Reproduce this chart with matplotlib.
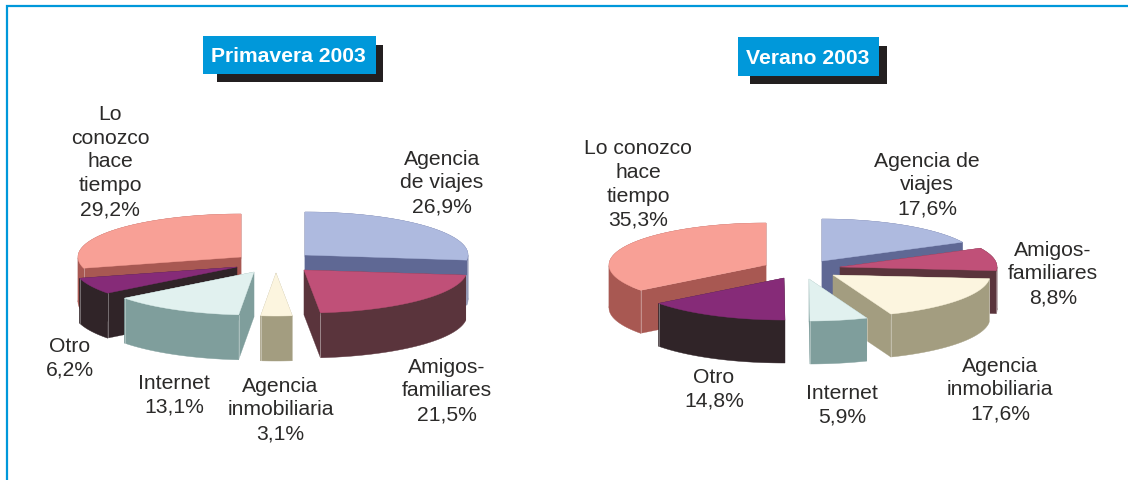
# plot.py
# Two exploded pseudo-3D pies, drawn on one full-figure axes in pixel coords

import numpy as np
import matplotlib
matplotlib.use("Agg")
import matplotlib.pyplot as plt
from matplotlib.patches import Polygon, Rectangle

# -------------------------
# Data
# -------------------------
categories_left = ["Agencia\nde viajes", "Amigos-\nfamiliares", "Agencia\ninmobiliaria",
                   "Internet", "Otro", "Lo\nconozco\nhace\ntiempo"]
values_left = [26.9, 21.5, 3.1, 13.1, 6.2, 29.2]

categories_right = ["Agencia de\nviajes", "Amigos-\nfamiliares", "Agencia\ninmobiliaria",
                    "Internet", "Otro", "Lo conozco\nhace\ntiempo"]
values_right = [17.6, 8.8, 17.6, 5.9, 14.8, 35.3]

titles = ["Primavera 2003", "Verano 2003"]

# -------------------------
# Style / layout
# -------------------------
W, H = 1128, 481
BLUE = "#0098DA"
TEXT = "#2B2A29"
TOP_COLORS = ["#AEBADF", "#C05078", "#FCF5DF", "#E1F1EF", "#862B78", "#F8A096"]
SIDE_COLORS = ["#5F6894", "#5A343C", "#A39D80", "#7F9E9C", "#302428", "#A85852"]

# apex of each exploded slice, in pixels
APEX_LEFT = [(305, 256), (304, 271), (276, 274), (254, 273), (237, 268), (241, 258)]
APEX_RIGHT = [(822, 262), (840, 268), (833, 276), (809, 280), (784, 279), (766, 266)]
ORDER_LEFT = [5, 0, 4, 1, 3, 2]
ORDER_RIGHT = [5, 0, 1, 2, 4, 3]

LABELS_LEFT = [(442, 183), (447, 391), (280.5, 410), (174, 395), (70, 358), (110, 162)]
LABELS_RIGHT = [(927, 185), (1053, 274), (1000, 390), (842, 405), (714, 389), (638, 184.5)]

plt.rcParams["font.family"] = ["Liberation Sans", "DejaVu Sans"]


def draw_pie(ax, values, apexes, order, rx, ry, depth):
    edges = np.concatenate([[0], np.cumsum(values)]) / sum(values) * 2 * np.pi
    for i in order:
        z = order.index(i) * 3
        cx, cy = apexes[i]
        t = np.linspace(edges[i], edges[i + 1], 120)
        x = cx + rx * np.sin(t)
        y = cy - ry * np.cos(t)
        # side walls: two cut faces
        for a in (0, -1):
            face = [(cx, cy), (x[a], y[a]), (x[a], y[a] + depth), (cx, cy + depth)]
            ax.add_patch(Polygon(face, fc=SIDE_COLORS[i], ec=SIDE_COLORS[i], lw=0.2, zorder=z))
        # outer rim, split where x turns round so the polygon does not cross itself
        turns = np.where(np.diff(np.sign(np.diff(x))) != 0)[0] + 1
        for part in np.split(np.arange(len(t)), turns):
            if len(part) < 2:
                continue
            xp, yp = x[part], y[part]
            rim = np.column_stack([np.r_[xp, xp[::-1]], np.r_[yp, yp[::-1] + depth]])
            ax.add_patch(Polygon(rim, fc=SIDE_COLORS[i], ec=SIDE_COLORS[i], lw=0.3, zorder=z + 1))
        top = np.column_stack([np.r_[cx, x], np.r_[cy, y]])
        ax.add_patch(Polygon(top, fc=TOP_COLORS[i], ec=TOP_COLORS[i], lw=0.3, zorder=z + 2))
        # pale seam on front corners
        for a in (0, -1):
            if y[a] > cy:
                ax.plot([x[a], x[a]], [y[a], y[a] + depth], color="white", lw=0.4, alpha=0.6,
                        zorder=z + 1.5)


def draw_title(ax, text, box, shadow):
    ax.add_patch(Rectangle((shadow[0], shadow[1]), shadow[2] - shadow[0], shadow[3] - shadow[1],
                           fc="#231F20", ec="none", zorder=50))
    ax.add_patch(Rectangle((box[0], box[1]), box[2] - box[0], box[3] - box[1],
                           fc=BLUE, ec="none", zorder=51))
    ax.text((box[0] + box[2]) / 2 - 1, (box[1] + box[3]) / 2 + 1, text, color="white",
            fontsize=15.2, fontweight="bold", ha="center", va="center", zorder=52)


def draw_labels(ax, categories, values, positions):
    for cat, val, (x, y) in zip(categories, values, positions):
        s = f"{cat}\n{val:.1f}%".replace(".", ",")
        ax.text(x, y, s, color=TEXT, fontsize=15.2, ha="center", va="center",
                linespacing=1.33, zorder=60)


fig = plt.figure(figsize=(W / 100, H / 100), dpi=100)
ax = fig.add_axes([0, 0, 1, 1])
ax.set_xlim(0, W)
ax.set_ylim(H, 0)
ax.axis("off")

# frame, open at right and bottom
ax.plot([6.5, 6.5, W], [H, 6.5, 6.5], color=BLUE, lw=1.6, solid_joinstyle="miter")

draw_pie(ax, values_left, APEX_LEFT, ORDER_LEFT, 163, 43, 45)
draw_pie(ax, values_right, APEX_RIGHT, ORDER_RIGHT, 157, 42, 43)

draw_title(ax, titles[0], (203, 37, 376, 75), (217, 46, 383, 83))
draw_title(ax, titles[1], (738, 38, 879, 77), (750, 47, 887, 85))

draw_labels(ax, categories_left, values_left, LABELS_LEFT)
draw_labels(ax, categories_right, values_right, LABELS_RIGHT)

fig.savefig("out.png", dpi=100)
